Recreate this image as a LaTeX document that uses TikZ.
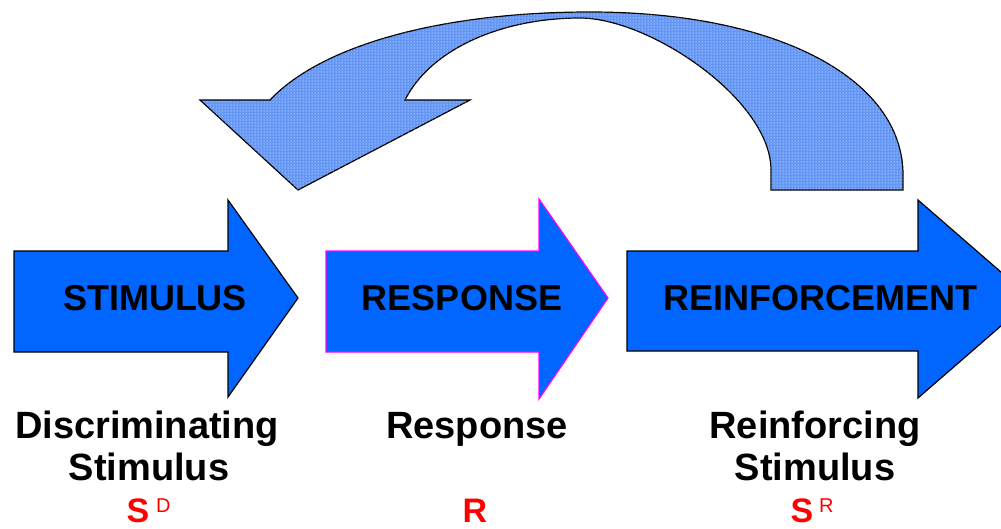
\documentclass[tikz,border=0pt]{standalone}
\usepackage{fontspec}
\setmainfont{Liberation Sans}
\usetikzlibrary{patterns}
\definecolor{arrowblue}{RGB}{0,102,255}
\definecolor{curveblue}{RGB}{100,150,245}
\definecolor{magentaline}{RGB}{255,0,255}
\definecolor{labelred}{RGB}{255,0,0}
\begin{document}
\begin{tikzpicture}[x=1pt,y=-1pt,
  flatarrow/.style={fill=arrowblue, draw=black, line width=1.2pt, line join=miter},
  loopstyle/.style={fill=curveblue, draw=black, line width=1.2pt, line join=miter, postaction={pattern=dots, pattern color=white}},
  bodylabel/.style={font=\fontsize{36}{40}\selectfont\bfseries, inner sep=0pt, anchor=base},
  caption/.style={font=\fontsize{38}{42}\selectfont\bfseries, inner sep=0pt, anchor=base},
  symbol/.style={font=\fontsize{34}{36}\selectfont\bfseries, text=labelred, inner sep=0pt, anchor=base},
  supscript/.style={font=\fontsize{20}{20}\selectfont, text=labelred, inner sep=0pt, anchor=base west}]
\useasboundingbox (0,0) rectangle (1001,528);
\fill[white] (0,0) rectangle (1001,528);
\clip (0,0) rectangle (1001,528);

% curved feedback arrow
\draw[loopstyle] (771,190) -- (903,190) -- (903,175)
  .. controls (903,80) and (780,12) .. (590,12)
  .. controls (450,12) and (325,42) .. (270,100)
  -- (200,100) -- (298,190) -- (470,100) -- (405,100)
  .. controls (430,50) and (500,18) .. (580,18)
  .. controls (650,18) and (771,100) .. (771,170) -- cycle;

% straight arrows
\draw[flatarrow] (14,251) -- (228,251) -- (228,200) -- (298,298) -- (228,397) -- (228,352) -- (14,352) -- cycle;
\draw[flatarrow, draw=magentaline] (326,251) -- (539,251) -- (539,199) -- (608,298) -- (539,399) -- (539,352) -- (326,352) -- cycle;
\draw[flatarrow] (627,251) -- (918,251) -- (918,200) -- (1032,299) -- (918,398) -- (918,351) -- (627,351) -- cycle;

% arrow labels
\node[bodylabel] (stim) at (155,310) {STIMULUS};
\node[bodylabel] (resp) at (462,310) {RESPONSE};
\node[bodylabel] (reinf) at (820,310) {REINFORCEMENT};

% captions
\node[caption] (c1a) at (147,438) {Discriminating};
\node[caption] (c1b) at (149,480) {Stimulus};
\node[caption] (c2a) at (477,438) {Response};
\node[caption] (c3a) at (815,438) {Reinforcing};
\node[caption] (c3b) at (815,480) {Stimulus};

% symbols
\node[symbol] (sd) at (138,522) {S};
\node[supscript] (sdsup) at (156,512) {D};
\node[symbol] (r) at (475,522) {R};
\node[symbol] (sr) at (802,522) {S};
\node[supscript] (srsup) at (819,512) {R};
\end{tikzpicture}
\end{document}
